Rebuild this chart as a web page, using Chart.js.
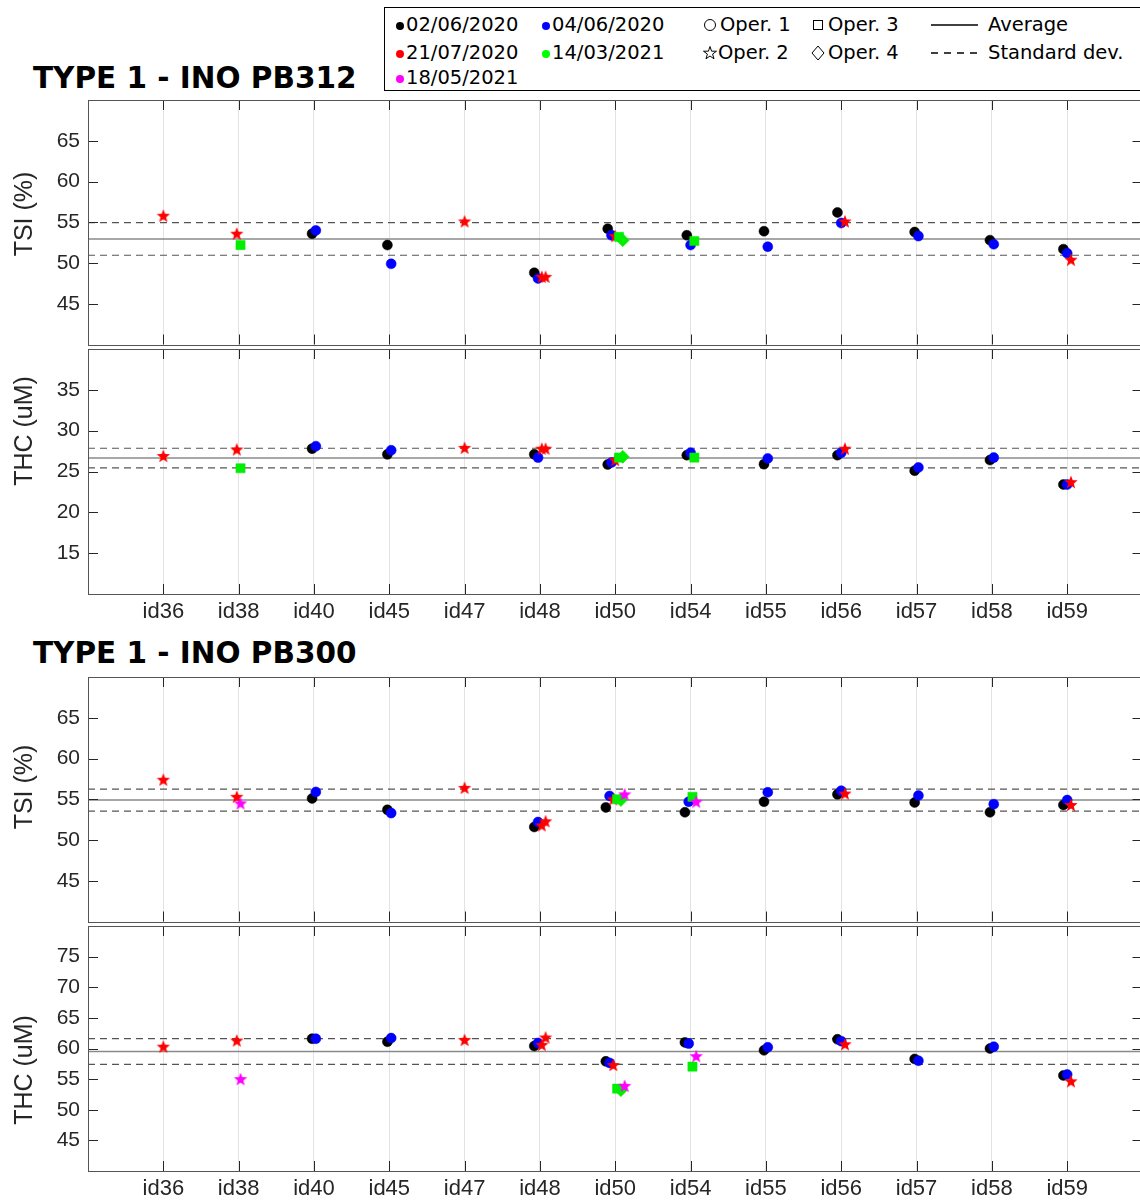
<!DOCTYPE html>
<html>
<head>
<meta charset="utf-8">
<script src="https://cdn.jsdelivr.net/npm/chart.js@4.4.1/dist/chart.umd.min.js"></script>
<style>
  html, body { margin: 0; padding: 0; background: #fff; overflow: hidden; }
  #page { position: relative; width: 1140px; height: 1200px; overflow: hidden; }
  #page canvas { position: absolute; left: 0; }
  .title { position: absolute; left: 33px; font: bold 29.5px "DejaVu Sans"; color: #000; white-space: nowrap; line-height: 34px; }
  #legend { position: absolute; left: 384px; top: 7px; width: 760px; height: 82px; border: 1px solid #000; background: #fff;
            font: 19.5px "DejaVu Sans"; color: #000; }
  .it { position: absolute; white-space: nowrap; line-height: 20px; }
  .dot { display: inline-block; width: 8px; height: 8px; border-radius: 50%; margin-right: 2px; vertical-align: 1px; }
  .sym { position: absolute; }
</style>
</head>
<body>
<div id="page">
  <div class="title" style="top:61px">TYPE 1 - INO PB312</div>
  <div class="title" style="top:636px">TYPE 1 - INO PB300</div>

  <canvas id="tsi312"></canvas>
  <canvas id="thc312"></canvas>
  <canvas id="tsi300"></canvas>
  <canvas id="thc300"></canvas>

  <div id="legend">
    <div class="it" style="left:11px;top:7px"><span class="dot" style="background:#000"></span>02/06/2020</div>
    <div class="it" style="left:157px;top:7px"><span class="dot" style="background:#0000ff"></span>04/06/2020</div>
    <div class="it" style="left:11px;top:35px"><span class="dot" style="background:#ff0000"></span>21/07/2020</div>
    <div class="it" style="left:157px;top:35px"><span class="dot" style="background:#00ff00"></span>14/03/2021</div>
    <div class="it" style="left:11px;top:60px"><span class="dot" style="background:#ff00ff"></span>18/05/2021</div>

    <svg class="sym" style="left:318px;top:10px" width="14" height="14"><circle cx="7" cy="7" r="5.5" fill="none" stroke="#000" stroke-width="1"/></svg>
    <div class="it" style="left:335px;top:7px">Oper. 1</div>
    <svg class="sym" style="left:317px;top:37px" width="16" height="16"><polygon points="8,1.5 9.6,6.2 14.5,6.2 10.6,9.1 12,13.8 8,11 4,13.8 5.4,9.1 1.5,6.2 6.4,6.2" fill="none" stroke="#000" stroke-width="1"/></svg>
    <div class="it" style="left:333px;top:35px">Oper. 2</div>
    <svg class="sym" style="left:427px;top:11px" width="12" height="12"><rect x="1.5" y="1.5" width="9" height="9" fill="none" stroke="#000" stroke-width="1"/></svg>
    <div class="it" style="left:443px;top:7px">Oper. 3</div>
    <svg class="sym" style="left:425px;top:37px" width="16" height="16"><polygon points="8,1 14,8 8,15 2,8" fill="none" stroke="#000" stroke-width="1"/></svg>
    <div class="it" style="left:443px;top:35px">Oper. 4</div>

    <svg class="sym" style="left:545px;top:15px" width="50" height="4"><line x1="1" y1="2" x2="48" y2="2" stroke="#000" stroke-width="1.5"/></svg>
    <div class="it" style="left:603px;top:7px">Average</div>
    <svg class="sym" style="left:545px;top:43px" width="50" height="4"><line x1="1" y1="2" x2="48" y2="2" stroke="#000" stroke-width="1.5" stroke-dasharray="7,6"/></svg>
    <div class="it" style="left:603px;top:35px">Standard dev.</div>
  </div>
</div>

<script>
// categories on the x axis
const categories = ['id36', 'id38', 'id40', 'id45', 'id47', 'id48', 'id50', 'id54', 'id55', 'id56', 'id57', 'id58', 'id59'];

// tick labels
const tsiTicks = [45, 50, 55, 60, 65];
const thc312Ticks = [15, 20, 25, 30, 35];
const thc300Ticks = [45, 50, 55, 60, 65, 70, 75];

// series labels (dates / operators)
const seriesNames = ['02/06/2020', '04/06/2020', '21/07/2020', '21/07/2020', '14/03/2021', '14/03/2021', '18/05/2021'];
const operators = ['Oper. 1', 'Oper. 1', 'Oper. 2', 'Oper. 2', 'Oper. 3', 'Oper. 4', 'Oper. 2'];

// ---- TYPE 1 - INO PB312, TSI (%)
const tsi312_0206 = [null, null, 53.6, 52.2, null, 48.8, 54.2, 53.4, 53.9, 56.2, 53.8, 52.8, 51.7];
const tsi312_0406 = [null, null, 54.0, 49.9, null, 48.1, 53.4, 52.2, 52.0, 54.9, 53.3, 52.3, 51.2];
const tsi312_2107 = [55.8, 53.6, null, null, 55.1, 48.3, 53.3, null, null, 55.1, null, null, 50.4];
const tsi312_2107b = [null, null, null, null, null, 48.3, null, null, null, null, null, null, null];
const tsi312_1403sq = [null, 52.2, null, null, null, null, 53.2, 52.7, null, null, null, null, null];
const tsi312_1403di = [null, null, null, null, null, null, 52.8, null, null, null, null, null, null];
const tsi312_1805 = [null, null, null, null, null, null, null, null, null, null, null, null, null];
const tsi312Avg = 52.95, tsi312Sd = 2.0;

// ---- TYPE 1 - INO PB312, THC (uM)
const thc312_0206 = [null, null, 27.8, 27.1, null, 27.1, 25.85, 27.0, 25.9, 27.0, 25.1, 26.4, 23.4];
const thc312_0406 = [null, null, 28.1, 27.6, null, 26.7, 26.1, 27.3, 26.6, 27.3, 25.5, 26.7, 23.4];
const thc312_2107 = [26.9, 27.7, null, null, 27.9, 27.8, 26.4, null, null, 27.8, null, null, 23.7];
const thc312_2107b = [null, null, null, null, null, 27.8, null, null, null, null, null, null, null];
const thc312_1403sq = [null, 25.4, null, null, null, null, 26.7, 26.7, null, null, null, null, null];
const thc312_1403di = [null, null, null, null, null, null, 26.8, null, null, null, null, null, null];
const thc312_1805 = [null, null, null, null, null, null, null, null, null, null, null, null, null];
const thc312Avg = 26.65, thc312Sd = 1.2;

// ---- TYPE 1 - INO PB300, TSI (%)
const tsi300_0206 = [null, null, 55.1, 53.7, null, 51.6, 54.0, 53.4, 54.7, 55.6, 54.6, 53.4, 54.3];
const tsi300_0406 = [null, null, 55.9, 53.3, null, 52.2, 55.4, 54.7, 55.85, 56.05, 55.45, 54.4, 54.9];
const tsi300_2107 = [57.4, 55.3, null, null, 56.4, 51.8, 55.0, null, null, 55.7, null, null, 54.3];
const tsi300_2107b = [null, null, null, null, null, 52.3, null, null, null, null, null, null, null];
const tsi300_1403sq = [null, null, null, null, null, null, 55.0, 55.3, null, null, null, null, null];
const tsi300_1403di = [null, null, null, null, null, null, 54.9, null, null, null, null, null, null];
const tsi300_1805 = [null, 54.5, null, null, null, null, 55.6, 54.7, null, null, null, null, null];
const tsi300Avg = 54.9, tsi300Sd = 1.35;

// ---- TYPE 1 - INO PB300, THC (uM)
const thc300_0206 = [null, null, 61.6, 61.1, null, 60.4, 57.9, 61.0, 59.7, 61.5, 58.3, 60.0, 55.6];
const thc300_0406 = [null, null, 61.6, 61.7, null, 60.9, 57.65, 60.8, 60.2, 61.2, 58.0, 60.3, 55.75];
const thc300_2107 = [60.3, 61.3, null, null, 61.4, 60.6, 57.3, null, null, 60.7, null, null, 54.65];
const thc300_2107b = [null, null, null, null, null, 61.8, null, null, null, null, null, null, null];
const thc300_1403sq = [null, null, null, null, null, null, 53.45, 57.05, null, null, null, null, null];
const thc300_1403di = [null, null, null, null, null, null, 53.2, null, null, null, null, null, null];
const thc300_1805 = [null, 55.0, null, null, null, null, 53.9, 58.75, null, null, null, null, null];
const thc300Avg = 59.5, thc300Sd = 2.1;


function starImage(color, r) {
    const c = document.createElement('canvas');
    const s = Math.ceil(r * 2 + 2);
    c.width = s; c.height = s;
    const g = c.getContext('2d');
    g.beginPath();
    for (let k = 0; k < 10; k++) {
        const rr = k % 2 ? r * 0.42 : r;
        const a = -Math.PI / 2 + k * Math.PI / 5;
        g.lineTo(s / 2 + rr * Math.cos(a), s / 2 + 0.5 + rr * Math.sin(a));
    }
    g.closePath();
    g.fillStyle = color;
    g.fill();
    return c;
}

// marker style per series (same order as the value arrays)
const markers = [
    { color: '#000000', style: 'circle', radius: 5 },
    { color: '#0000ff', style: 'circle', radius: 5 },
    { color: '#ff0000', style: starImage('#ff0000', 7) },
    { color: '#ff0000', style: starImage('#ff0000', 7) },
    { color: '#00ee00', style: 'rect', radius: 6.5 },
    { color: '#00ee00', style: 'rectRot', radius: 6.5 },
    { color: '#ff00ff', style: starImage('#ff00ff', 7) }
];

// inside tick marks, axes box and the y label, MATLAB style
const framePlugin = {
    id: 'frame',
    afterDraw(chart, args, opts) {
        const { ctx, chartArea: a, scales: { x, y } } = chart;
        ctx.save();
        ctx.strokeStyle = '#262626';
        ctx.lineWidth = 1;
        ctx.beginPath();
        x.ticks.forEach(t => {
            const px = Math.round(x.getPixelForValue(t.value)) + 0.5;
            ctx.moveTo(px, a.bottom); ctx.lineTo(px, a.bottom - 10);
            ctx.moveTo(px, a.top); ctx.lineTo(px, a.top + 10);
        });
        y.ticks.forEach(t => {
            const py = Math.round(y.getPixelForValue(t.value)) + 0.5;
            ctx.moveTo(a.left, py); ctx.lineTo(a.left + 10, py);
            ctx.moveTo(a.right, py); ctx.lineTo(a.right - 10, py);
        });
        ctx.stroke();
        ctx.strokeStyle = '#555555';
        ctx.strokeRect(Math.round(a.left) + 0.5, Math.round(a.top) + 0.5,
            Math.round(a.right - a.left), Math.round(a.bottom - a.top));

        ctx.translate(25, opts.labelY);
        ctx.rotate(-Math.PI / 2);
        ctx.fillStyle = '#262626';
        ctx.font = '25px "Liberation Sans"';
        ctx.textAlign = 'center';
        ctx.textBaseline = 'middle';
        ctx.fillText(opts.label, 0, 0);
        ctx.restore();
    }
};

function makePanel(id, top, height, showX, series, avg, sd, yMin, yMax, yTicks, yTitle, yTitleY) {
    const canvas = document.getElementById(id);
    canvas.width = 1150;
    canvas.height = height;
    canvas.style.top = top + 'px';
    canvas.style.width = '1150px';
    canvas.style.height = height + 'px';

    // spread the points that share one category, 0.05 apart
    const datasets = [];
    const pts = series.map(() => []);
    categories.forEach((cat, j) => {
        const here = [];
        series.forEach((vals, i) => { if (vals[j] !== null) here.push(i); });
        here.forEach((i, rank) => {
            const off = (rank - (here.length - 1) / 2) * 0.05;
            pts[i].push({ x: j + 1 + off, y: series[i][j] });
        });
    });
    series.forEach((vals, i) => {
        const m = markers[i];
        datasets.push({
            label: seriesNames[i] + ' ' + operators[i],
            data: pts[i],
            pointStyle: m.style,
            pointRadius: m.radius || 7,
            pointBackgroundColor: m.color,
            pointBorderColor: m.color,
            pointBorderWidth: 0.5,
            showLine: false,
            order: 10 - i
        });
    });
    datasets.push({
        label: 'Average',
        data: [{ x: 0, y: avg }, { x: 14, y: avg }],
        showLine: true, borderColor: '#8a8a8a', borderWidth: 1.5, pointRadius: 0, order: 20
    });
    [avg + sd, avg - sd].forEach(v => datasets.push({
        label: 'Standard dev.',
        data: [{ x: 0, y: v }, { x: 14, y: v }],
        showLine: true, borderColor: '#555555', borderWidth: 1.2, borderDash: [7, 5], pointRadius: 0, order: 20
    }));

    new Chart(canvas.getContext('2d'), {
        type: 'scatter',
        data: { datasets: datasets },
        options: {
            responsive: false,
            animation: false,
            devicePixelRatio: 1,
            events: [],
            layout: { padding: { top: 10, right: 2, bottom: 0, left: 0 } },
            plugins: {
                legend: { display: false },
                tooltip: { enabled: false },
                frame: { label: yTitle, labelY: yTitleY - top }
            },
            scales: {
                x: {
                    type: 'linear',
                    min: 0,
                    max: 14,
                    afterBuildTicks: s => { s.ticks = categories.map((c, j) => ({ value: j + 1 })); },
                    afterFit: s => {
                        s.height = showX ? 40 : 0;
                        s.paddingLeft = 0; s.paddingRight = 0;
                    },
                    grid: { display: true, color: '#e3e3e3', lineWidth: 1, drawTicks: false },
                    border: { display: false },
                    ticks: {
                        display: showX,
                        padding: 5,
                        color: '#262626',
                        font: { family: 'Liberation Sans', size: 22 },
                        callback: v => categories[v - 1]
                    }
                },
                y: {
                    min: yMin,
                    max: yMax,
                    afterBuildTicks: s => { s.ticks = yTicks.map(v => ({ value: v })); },
                    afterFit: s => {
                        s.width = 88;
                        s.paddingTop = 0; s.paddingBottom = 0;
                    },
                    grid: { display: false, drawTicks: false },
                    border: { display: false },
                    ticks: {
                        padding: 8,
                        color: '#262626',
                        font: { family: 'Liberation Sans', size: 21 }
                    },
                    title: { display: false }
                }
            }
        },
        plugins: [framePlugin]
    });
}

makePanel('tsi312', 90, 262, false,
    [tsi312_0206, tsi312_0406, tsi312_2107, tsi312_2107b, tsi312_1403sq, tsi312_1403di, tsi312_1805],
    tsi312Avg, tsi312Sd, 40, 70, tsiTicks, 'TSI (%)', 214);
makePanel('thc312', 339, 295, true,
    [thc312_0206, thc312_0406, thc312_2107, thc312_2107b, thc312_1403sq, thc312_1403di, thc312_1805],
    thc312Avg, thc312Sd, 10, 40, thc312Ticks, 'THC (uM)', 431);
makePanel('tsi300', 667, 262, false,
    [tsi300_0206, tsi300_0406, tsi300_2107, tsi300_2107b, tsi300_1403sq, tsi300_1403di, tsi300_1805],
    tsi300Avg, tsi300Sd, 40, 70, tsiTicks, 'TSI (%)', 787);
makePanel('thc300', 916, 295, true,
    [thc300_0206, thc300_0406, thc300_2107, thc300_2107b, thc300_1403sq, thc300_1403di, thc300_1805],
    thc300Avg, thc300Sd, 40, 80, thc300Ticks, 'THC (uM)', 1070);
</script>
</body>
</html>
